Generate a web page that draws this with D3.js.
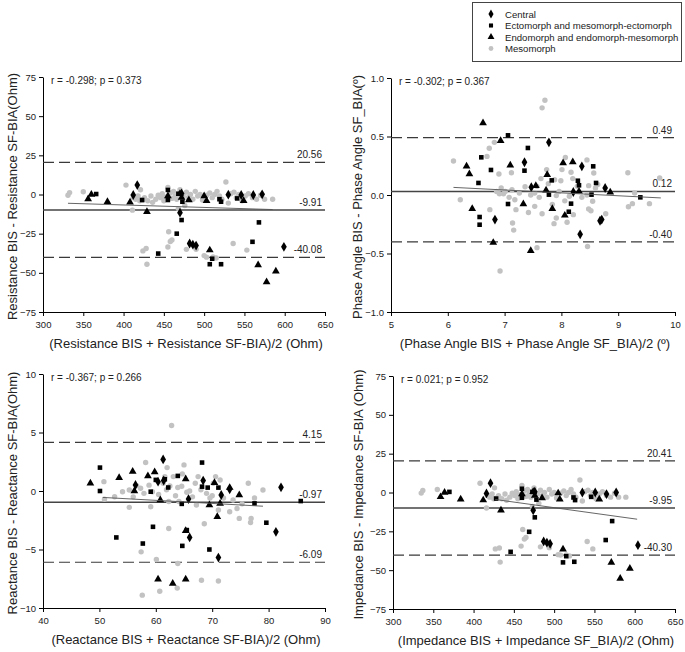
<!DOCTYPE html>
<html><head><meta charset="utf-8">
<script src="https://cdn.jsdelivr.net/npm/d3@7"></script>
<style>body{margin:0;background:#fff}svg{display:block}text{font-family:"Liberation Sans",Arial,sans-serif}</style>
</head><body>
<svg id="c" width="685" height="652"></svg>
<script>
// ---------- DATA ----------
const groups = ["Central", "Ectomorph and mesomorph-ectomorph", "Endomorph and endomorph-mesomorph", "Mesomorph"];

const yTitles = ["Resistance BIS - Resistance SF-BIA(Ohm)", "Phase Angle BIS - Phase Angle SF_BIA(º)",
                 "Reactance BIS - Reactance SF-BIA(Ohm)", "Impedance BIS - Impedance SF-BIA (Ohm)"];
const xTitles = ["(Resistance BIS + Resistance SF-BIA)/2 (Ohm)", "(Phase Angle BIS + Phase Angle SF_BIA)/2 (º)",
                 "(Reactance BIS + Reactance SF-BIA)/2 (Ohm)", "(Impedance BIS + Impedance SF_BIA)/2 (Ohm)"];
const statTexts = ["r = -0.298; p = 0.373", "r = -0.302; p = 0.367", "r = -0.367; p = 0.266", "r = 0.021; p = 0.952"];
const xDomains = [[300, 650], [5, 10], [40, 90], [300, 650]];
const yDomains = [[-75, 75], [-1, 1], [-10, 10], [-75, 75]];
const xTickVals = [[300,350,400,450,500,550,600,650],[5,6,7,8,9,10],[40,50,60,70,80,90],[300,350,400,450,500,550,600,650]];
const yTickVals = [[-75,-50,-25,0,25,50,75],[-1,-0.5,0,0.5,1],[-10,-5,0,5,10],[-75,-50,-25,0,25,50,75]];
const yTickFmt = ["d", ".1f", "d", "d"];
const upperLoA = [20.56, 0.49, 4.15, 20.41];
const meanBias = [-9.91, 0.03, -0.97, -9.95];
const lowerLoA = [-40.08, -0.40, -6.09, -40.30];
const lineLabels = [["20.56","-9.91","-40.08"],["0.49","0.12","-0.40"],["4.15","-0.97","-6.09"],["20.41","-9.95","-40.30"]];
const regLines = [[[331,-5.6],[585,-9.6]], [[6.1,0.065],[9.75,-0.025]], [[50.6,-0.55],[79,-1.3]], [[427,-4.5],[603,-17.2]]];

// Resistance panel
const resCentral = [[417,6],[412,-0.3],[470,-11.6],[472,0.7],[482,-31.3],[486,-32],[490,-32.6],[530,-0.1],[546,-0.3],[561,-0.3],[572,0.1],[599,-33.4]];
const resEcto = [[366,0.3],[423,-3.5],[443,-37.7],[455,2.9],[455,-3.5],[466,-25],[472,-16.3],[473,-4.6],[468,0.5],[507,-44.5],[510,-41],[521,-44.5],[521,-4.6],[519,-3],[541,-2.5],[560,-30.2],[568,-17.8]];
const resEndo = [[356,-2.9],[360,0],[380,-4.6],[408,-5],[429,-11],[455,-1],[470,0.5],[472,-2],[481,-3.5],[500,-1],[503,-4],[507,-35.5],[549,-4],[567,-45],[577.5,-55.8],[589,-49]];
const resMeso = [[331,-0.5],[333,1.2],[350,1.8],[403,6],[411,-10],[412,-2],[415,-3],[418,-1],[420,-4],[421,3],[424,-3.5],[426,-2],[430,-4],[434,-1],[436,-5],[440,-3],[443,-0.5],[446,-2],[448,0.5],[450,-4],[452,-1.5],[455,4.5],[458,1],[460,-2.5],[462,2],[464,-1],[466,-3],[468,0],[470,3],[474,-1],[476,-7],[478,1.5],[480,-2],[483,0],[486,-3],[489,2],[492,-1],[495,0],[498,-3.5],[503,-0.5],[507,1],[510,-2],[513,0],[516,2],[519,-1],[522,-3],[527,8],[530,-5.5],[533,0.5],[537,1.5],[540,-2],[543,0],[547,-4],[551,-1],[555,0.5],[560,-2],[565,-3],[570,-0.5],[575,-3],[585,-3],
  [424,-36],[428,-34.5],[429,-44.5],[456,-23.8],[458,-30],[460,-29],[455,-33.5],[478,-35],[490,-35],[500,-39],[503,-40],[511,-39.8],[515,-40.5],[536,-31.3],[553,-35.5],[468,-9]];

// Phase angle panel
const paCentral = [[6.83,-0.21],[7.35,0.28],[7.78,0.45],[8.33,-0.336],[8.36,0.245],[8.71,-0.21],[8.68,-0.22],[8.77,0.06],[8.21,0.026],[7.47,0.066]];
const paEcto = [[6.59,0.322],[6.54,0.103],[6.56,-0.188],[6.56,-0.254],[6.76,0.214],[7.06,0.51],[7.06,-0.077],[7.35,0.208],[7.41,0.402],[7.78,0.003],[7.83,0.125],[8.17,-0.074],[8.13,-0.143],[8.29,0.122],[8.31,0.083],[8.56,0.245],[8.53,0.003],[8.61,0.103],[9.39,-0.02]];
const paEndo = [[6.62,0.615],[6.33,0.245],[6.38,0.18],[6.43,-0.117],[6.93,0.464],[7.1,0.254],[7.33,-0.077],[6.8,-0.407],[7.46,-0.476],[7.75,0.174],[7.84,-0.117],[8.03,0.273],[8.06,-0.174],[8.2,0.282],[8.31,0.031],[8.86,0.023],[7.55,0.08],[7.73,0.04]];
const paMeso = [[6.1,0.29],[6.22,-0.04],[6.69,0.33],[6.73,0.40],[6.82,0.45],[6.74,-0.125],[6.9,0.18],[6.94,0.06],[6.98,0.01],[6.91,0.01],[7.12,0.19],[7.13,0.045],[7.14,-0.24],[7.16,-0.30],[7.18,-0.04],[7.2,-0.125],[7.26,0.017],[7.42,-0.15],[7.53,0.017],[7.57,0.074],[7.53,-0.097],[7.57,-0.45],[6.92,-0.65],[7.64,0.14],[7.66,-0.16],[7.66,0.745],[7.71,0.81],[7.74,0.217],[7.77,0.097],[7.88,0.13],[7.91,-0.005],[7.87,-0.245],[7.91,-0.197],[7.99,0.122],[8.01,0.217],[8.07,0.32],[8.1,-0.233],[8.14,-0.01],[8.17,0.194],[8.2,0.14],[8.21,-0.168],[8.28,0.074],[8.45,0.30],[8.45,0.0],[8.48,0.08],[8.48,-0.12],[8.52,-0.134],[8.55,-0.054],[8.57,0.188],[8.6,0.06],[8.64,0.09],[8.46,-0.44],[8.78,-0.16],[9.17,0.19],[9.18,-0.1],[9.25,-0.074],[9.29,0.017],[9.55,-0.074],[9.73,0.145],[7.01,0.03],[7.36,0.07],[7.46,0.0],[7.61,-0.02],[7.84,-0.08],[7.96,0.03],[8.06,-0.05],[8.36,-0.02],[7.08,-0.02],[6.86,0.03]];

// Reactance panel
const xcCentral = [[61.3,2.7],[61.4,0.9],[60.4,0.8],[65.8,-0.69],[66.0,-3.97],[68.4,0.89],[71.6,-0.34],[71.1,-5.69],[73.1,0.14],[81.3,-3.49],[82.2,0.31],[56.4,0.51]];
const xcEcto = [[50.1,2.0],[50.1,0.0],[53.0,-3.97],[57.7,-4.49],[59.1,-0.06],[59.5,-3.06],[62.2,0.3],[61.6,1.0],[63.9,1.29],[64.6,-1.1],[64.7,-4.69],[65.5,-3.34],[68.2,2.43],[68.2,0.37],[69.2,0.29],[69.5,-5.0],[71.1,0.29],[77.5,-1.06],[79.6,-2.71],[85.7,-0.86],[60.0,0.95]];
const xcEndo = [[48.4,0.66],[53.5,1.14],[55.9,1.66],[56.2,0.0],[58.6,1.29],[59.8,1.63],[60.8,-0.77],[60.4,-7.54],[63.0,-7.91],[65.3,-7.54],[65.3,1.03],[69.5,-1.2],[70.9,-2.2],[71.4,-1.06],[73.1,0.29],[74.8,-0.34],[65.3,-3.4],[70.4,0.7]];
const xcMeso = [[50.8,0.8],[50.9,-0.71],[52.7,-0.49],[54.1,-0.06],[55.3,-1.4],[55.3,0.09],[56.6,0.46],[57.3,0.23],[57.4,-5.2],[57.6,-8.9],[57.9,-0.2],[58.2,2.43],[59.1,-1.34],[59.4,-0.06],[60.1,-5.86],[60.7,-8.57],[61.3,0.66],[61.6,1.23],[62.0,2.0],[62.3,-3.2],[62.5,0.43],[62.8,5.6],[63.1,1.23],[63.5,-0.4],[63.9,0.3],[63.8,-8.3],[63.9,-6.2],[64.6,0.4],[64.7,1.46],[65.0,2.23],[65.5,-0.1],[66.0,0.0],[67.0,0.66],[67.2,-1.2],[67.5,1.23],[68.0,0.1],[68.1,-7.63],[68.6,-2.8],[69.0,-0.2],[69.6,-0.6],[70.2,0.66],[70.6,1.23],[71.1,-1.63],[71.1,-7.69],[71.4,0.94],[73.1,-1.77],[73.7,-0.77],[74.4,-1.49],[74.8,-2.34],[75.3,-1.1],[76.4,0.66],[76.8,-2.69],[76.9,-2.34],[77.5,-0.6],[79.0,0.09],[60.5,-0.3],[61.9,0.1],[62.3,-0.9],[64.1,-0.9],[66.5,-0.5],[70.0,-0.4],[72.0,-0.6],[58.8,0.5],[56.0,-0.5]];

// Impedance panel
const zCentral = [[421,6],[416,-0.6],[474,-11.4],[476,0.5],[487,-31.5],[491,-32.3],[495,-33],[535,0],[551,0],[565,-1],[577,0],[604,-33.9]];
const zEcto = [[370,0.4],[428,-3.9],[446,-38.2],[460,2.4],[460,-3.4],[469,-25.3],[476,-16],[478,-4.6],[473,0.4],[511,-45],[515,-41],[525,-44.6],[526,-4.9],[524,-3.2],[546,-2.8],[564,-30.6],[572,-18.4]];
const zEndo = [[359,-2.8],[364,0],[384,-4.3],[412,-4.9],[434,-11.4],[460,-1],[474,0.5],[476,-2],[485,-3.6],[505,-0.4],[507,-4.3],[511,-36.5],[556,-4.3],[571,-45],[582,-55.3],[594,-48.9]];
const zMeso = [[335,-0.4],[337,1.3],[355,1.9],[408,6],[416,-10],[417,-2],[420,-3],[423,-1],[425,-4],[426,3],[429,-3.5],[431,-2],[435,-4],[439,-1],[441,-5],[445,-3],[448,-0.5],[451,-2],[453,0.5],[455,-4],[457,-1.5],[460,4.5],[463,1],[465,-2.5],[467,2],[469,-1],[471,-3],[473,0],[475,3],[479,-1],[481,-7],[483,1.5],[485,-2],[488,0],[491,-3],[494,2],[497,-1],[500,0],[503,-3.5],[508,-0.5],[512,1],[515,-2],[518,0],[521,2],[524,-1],[527,-3],[532,8],[535,-5.5],[538,0.5],[542,1.5],[545,-2],[548,0],[552,-4],[556,-1],[560,0.5],[565,-2],[570,-3],[575,-0.5],[580,-3],[589,-3],
  [427,-36.3],[432,-35.7],[433,-44.8],[461,-23.8],[463,-30],[465,-29],[459,-34.5],[483,-35],[494,-35.5],[505,-40],[508,-40.3],[515,-40.2],[519,-40.8],[541,-31.5],[548,-36.3],[473,-9]];

const panelData = [
  [resCentral, resEcto, resEndo, resMeso],
  [paCentral, paEcto, paEndo, paMeso],
  [xcCentral, xcEcto, xcEndo, xcMeso],
  [zCentral, zEcto, zEndo, zMeso]
];

// ---------- LAYOUT ----------
const frames = [
  {l:43, r:325, t:77, b:312, ytx:17},
  {l:391, r:675, t:78, b:312, ytx:362},
  {l:43, r:325, t:374, b:608, ytx:17},
  {l:393, r:675, t:376, b:609, ytx:363}
];
const symbols = [d3.symbolDiamond, d3.symbolSquare, d3.symbolTriangle, d3.symbolCircle];
const symSizes = [28, 21, 26, 23];
const symFill = ["#000", "#000", "#000", "#c2c2c2"];

const svg = d3.select("#c");

frames.forEach((f, i) => {
  const x = d3.scaleLinear().domain(xDomains[i]).range([f.l, f.r]);
  const y = d3.scaleLinear().domain(yDomains[i]).range([f.b, f.t]);
  const g = svg.append("g");

  const xAx = g.append("g").attr("transform", `translate(0,${f.b})`)
    .call(d3.axisBottom(x).tickValues(xTickVals[i]).tickSize(4).tickSizeOuter(0).tickFormat(d3.format("d")));
  const yAx = g.append("g").attr("transform", `translate(${f.l},0)`)
    .call(d3.axisLeft(y).tickValues(yTickVals[i]).tickSize(4).tickSizeOuter(0).tickFormat(d3.format(yTickFmt[i])));
  [xAx, yAx].forEach(a => {
    a.selectAll("path,line").attr("stroke", "#000").attr("stroke-width", 1);
    a.selectAll("text").attr("font-size", 9.5).attr("fill", "#222").attr("font-family", '"Liberation Sans",Arial,sans-serif');
  });
  xAx.selectAll("text").attr("dy", "0.9em");
  yAx.selectAll("text").attr("x", -7);

  // limits of agreement and bias
  [upperLoA[i], lowerLoA[i]].forEach(v => {
    g.append("line").attr("x1", f.l).attr("x2", f.r).attr("y1", y(v)).attr("y2", y(v))
      .attr("stroke", "#3a3a3a").attr("stroke-width", 1.2).attr("stroke-dasharray", "11,5");
  });
  g.append("line").attr("x1", f.l).attr("x2", f.r).attr("y1", y(meanBias[i])).attr("y2", y(meanBias[i]))
    .attr("stroke", "#444").attr("stroke-width", 1.5);

  const labVals = [upperLoA[i], meanBias[i], lowerLoA[i]];
  labVals.forEach((v, k) => {
    g.append("text").attr("x", f.r - 3).attr("y", y(v) - 4).attr("text-anchor", "end")
      .attr("font-size", 10).attr("fill", "#222").text(lineLabels[i][k]);
  });

  // points
  panelData[i].slice().reverse().forEach((arr, rk) => {
    const k = 3 - rk;
    g.append("g").selectAll("path").data(arr).join("path")
      .attr("transform", d => `translate(${x(d[0])},${y(d[1])})`)
      .attr("d", d3.symbol().type(symbols[k]).size(symSizes[k]))
      .attr("fill", symFill[k]);
  });

  // regression line
  g.append("line").attr("x1", x(regLines[i][0][0])).attr("y1", y(regLines[i][0][1]))
    .attr("x2", x(regLines[i][1][0])).attr("y2", y(regLines[i][1][1]))
    .attr("stroke", "#555").attr("stroke-width", 0.9);

  // stats text
  g.append("text").attr("x", f.l + 8).attr("y", f.t + 7).attr("font-size", 10).attr("fill", "#222").text(statTexts[i]);

  // axis titles
  g.append("text").attr("x", (f.l + f.r) / 2 + 2).attr("y", f.b + 36).attr("text-anchor", "middle")
    .attr("font-size", 13).attr("fill", "#222").text(xTitles[i]);
  g.append("text").attr("transform", `translate(${f.ytx},${(f.t + f.b) / 2 + 2}) rotate(-90)`)
    .attr("text-anchor", "middle").attr("font-size", 13).attr("fill", "#222").text(yTitles[i]);
});

// legend
const lg = svg.append("g");
lg.append("rect").attr("x", 472.5).attr("y", 2.5).attr("width", 209).attr("height", 59)
  .attr("fill", "#fff").attr("stroke", "#444").attr("stroke-width", 1);
groups.forEach((name, k) => {
  const cy = 14 + k * 11.5;
  lg.append("path").attr("transform", `translate(491,${cy})`)
    .attr("d", d3.symbol().type(symbols[k]).size(symSizes[k] * 0.8)).attr("fill", symFill[k]);
  lg.append("text").attr("x", 505).attr("y", cy + 3.5).attr("font-size", 9.6).attr("fill", "#222").text(name);
});
</script>
</body></html>
